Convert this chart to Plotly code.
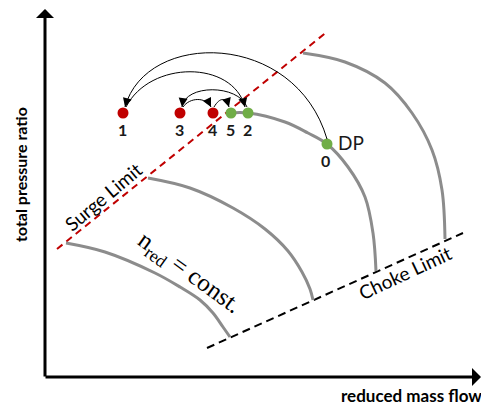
import plotly.graph_objects as go

# ---- chart data (reduced mass flow, total pressure ratio) in chart units ----
surge_flow = [57, 328]
surge_pr = [156, 374]

choke_flow = [207, 463]
choke_pr = [57, 172]

# constant reduced-speed lines, read point by point
speed_1_flow = [66, 105, 155, 180, 200, 213, 223, 230]
speed_1_pr = [162, 153, 132, 118, 105, 92, 78, 68]
speed_2_flow = [148, 190, 233, 265, 288, 302, 310, 313]
speed_2_pr = [227, 217, 197, 176, 154, 133, 116, 105]
speed_3_flow = [230, 248, 285, 308, 327, 348, 365, 373, 376]
speed_3_pr = [292, 292, 283, 272, 261, 238, 208, 172, 134]
speed_4_flow = [303, 345, 385, 412, 432, 442, 445]
speed_4_pr = [352, 343, 322, 292, 255, 215, 166]

# operating points 0..5
point_labels = ["0", "1", "2", "3", "4", "5"]
point_flow = [327, 123, 248, 180, 213, 231]
point_pr = [261, 292, 292, 292, 292, 292]
point_stable = [True, False, True, False, False, True]

# transitions between operating points
transitions = [("0", "1"), ("1", "2"), ("2", "3"), ("3", "4"), ("4", "5")]

# ---- styling ----
W, H = 481, 405
GRAY = "#8c8c8c"
RED = "#c00000"
GREEN = "#70ad47"
SANS = "Lato, Open Sans, sans-serif"
SERIF = "Liberation Serif, DejaVu Serif, serif"

# bezier control offsets for each transition arc (start side, end side)
arc_ctrl = {
    ("0", "1"): ((-32, 109), (21, 77)),
    ("1", "2"): ((24, 47), (-12, 47)),
    ("2", "3"): ((-9, 23), (3, 23)),
    ("3", "4"): ((7, 10), (-5, 10)),
    ("4", "5"): ((6, 10), (-3, 10)),
}
arc_end_shift = {
    ("0", "1"): ((0, 5), (2, 6)),
    ("1", "2"): ((3, 6), (-3, 6)),
    ("2", "3"): ((-1, 6), (2, 6)),
    ("3", "4"): ((3, 6), (-2, 6)),
    ("4", "5"): ((1, 6), (-2, 6)),
}

fig = go.Figure()

# surge and choke limits
fig.add_trace(go.Scatter(x=surge_flow, y=surge_pr, mode="lines",
                         line=dict(color=RED, width=2, dash="7px,5px"),
                         hoverinfo="skip"))
fig.add_trace(go.Scatter(x=choke_flow, y=choke_pr, mode="lines",
                         line=dict(color="black", width=2, dash="8px,5px"),
                         hoverinfo="skip"))

# speed lines
for fx, fy in [(speed_1_flow, speed_1_pr), (speed_2_flow, speed_2_pr),
               (speed_3_flow, speed_3_pr), (speed_4_flow, speed_4_pr)]:
    fig.add_trace(go.Scatter(x=fx, y=fy, mode="lines",
                             line=dict(color=GRAY, width=3, shape="spline",
                                       smoothing=1.0),
                             hoverinfo="skip"))

idx = {lab: i for i, lab in enumerate(point_labels)}

# transition arcs with arrowheads
annotations = []
shapes = []
for a, b in transitions:
    (sx, sy), (ex, ey) = arc_end_shift[(a, b)]
    x0, y0 = point_flow[idx[a]] + sx, point_pr[idx[a]] + sy
    x3, y3 = point_flow[idx[b]] + ex, point_pr[idx[b]] + ey
    (c1x, c1y), (c2x, c2y) = arc_ctrl[(a, b)]
    x1, y1 = x0 + c1x, y0 + c1y
    x2, y2 = x3 + c2x, y3 + c2y
    shapes.append(dict(type="path", xref="x", yref="y",
                       path=f"M{x0},{y0} C{x1},{y1} {x2},{y2} {x3},{y3}",
                       line=dict(color="black", width=1)))
    # direction of the curve at its end
    dx, dy = x3 - x2, y3 - y2
    n = (dx * dx + dy * dy) ** 0.5
    annotations.append(dict(x=x3, y=y3, ax=x3 - dx / n * 6, ay=y3 - dy / n * 6,
                            xref="x", yref="y", axref="x", ayref="y",
                            text="", showarrow=True, arrowhead=2,
                            arrowsize=1.8, arrowwidth=1, arrowcolor="black",
                            standoff=0))

# operating points
fig.add_trace(go.Scatter(
    x=point_flow, y=point_pr, mode="markers",
    marker=dict(size=11, color=[GREEN if s else RED for s in point_stable],
                line=dict(width=0)),
    hoverinfo="skip"))

for lab, fx, fy in zip(point_labels, point_flow, point_pr):
    annotations.append(dict(x=fx - (2 if lab == "0" else 1), y=fy - 16,
                            xref="x", yref="y", text=f"<b>{lab}</b>",
                            showarrow=False,
                            font=dict(family=SANS, size=16, color="#1a1a1a")))
annotations.append(dict(x=point_flow[0] + 9, y=point_pr[0] + 2,
                        xref="x", yref="y", text="DP", showarrow=False,
                        xanchor="left",
                        font=dict(family=SANS, size=19, color="#1a1a1a")))

# limit and speed-line labels
annotations.append(dict(x=103, y=209, xref="x", yref="y", text="Surge Limit",
                        showarrow=False, textangle=-40,
                        font=dict(family=SANS, size=19, color="black")))
annotations.append(dict(x=405, y=133, xref="x", yref="y", text="Choke Limit",
                        showarrow=False, textangle=-25,
                        font=dict(family=SANS, size=19, color="black")))
annotations.append(dict(x=189, y=132, xref="x", yref="y",
                        text="n<sub>red</sub> = const.",
                        showarrow=False, textangle=36,
                        font=dict(family=SERIF, size=25, color="black")))

# axes drawn as arrows
annotations.append(dict(x=45, y=396, ax=45, ay=27, xref="x", yref="y",
                        axref="x", ayref="y", text="", showarrow=True,
                        arrowhead=1, arrowsize=1, arrowwidth=3,
                        arrowcolor="black", standoff=0))
annotations.append(dict(x=481, y=28, ax=44, ay=28, xref="x", yref="y",
                        axref="x", ayref="y", text="", showarrow=True,
                        arrowhead=1, arrowsize=1, arrowwidth=3,
                        arrowcolor="black", standoff=0))
annotations.append(dict(x=20, y=230, xref="x", yref="y",
                        text="<b>total pressure ratio</b>", showarrow=False,
                        textangle=-90,
                        font=dict(family=SANS, size=16, color="black")))
annotations.append(dict(x=411, y=10, xref="x", yref="y",
                        text="<b>reduced mass flow</b>", showarrow=False,
                        font=dict(family=SANS, size=17, color="black")))

fig.update_layout(
    width=W, height=H,
    margin=dict(l=0, r=0, t=0, b=0),
    paper_bgcolor="white", plot_bgcolor="white",
    showlegend=False,
    xaxis=dict(range=[0, W], visible=False, fixedrange=True),
    yaxis=dict(range=[0, H], visible=False, fixedrange=True),
    shapes=shapes,
    annotations=annotations,
)

fig.write_html("out.html")
